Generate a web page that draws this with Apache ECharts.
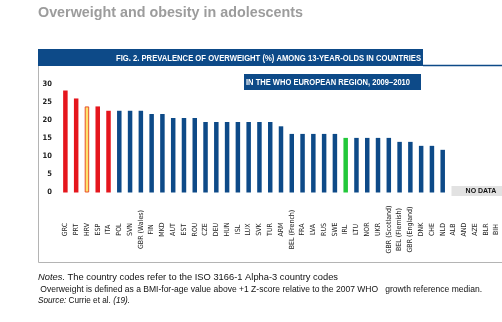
<!DOCTYPE html>
<html>
<head>
<meta charset="utf-8">
<script src="https://cdn.jsdelivr.net/npm/echarts@6/dist/echarts.min.js"></script>
<style>
  html, body { margin: 0; padding: 0; background: #ffffff; }
  #chart { width: 502px; height: 322px; }
</style>
</head>
<body>
<div id="chart"></div>
<script>
// Country codes along the x axis (HBSC 2009/2010 survey)
const countries = [
  'GRC', 'PRT', 'HRV', 'ESP', 'ITA', 'POL', 'SVN', 'GBR (Wales)', 'FIN', 'MKD',
  'AUT', 'EST', 'ROU', 'CZE', 'DEU', 'HUN', 'ISL', 'LUX', 'SVK', 'TUR',
  'ARM', 'BEL (French)', 'FRA', 'LVA', 'RUS', 'SWE', 'IRL', 'LTU', 'NOR', 'UKR',
  'GBR (Scotland)', 'BEL (Flemish)', 'GBR (England)', 'DNK', 'CHE', 'NLD',
  'ALB', 'AND', 'AZE', 'BLR', 'BIH'
];

// Prevalence of overweight (%) among 13-year-olds; null = no data
const overweight = [
  28.2, 26.0, 23.8, 23.8, 22.6, 22.6, 22.6, 22.6, 21.7, 21.7,
  20.6, 20.6, 20.6, 19.5, 19.5, 19.5, 19.5, 19.5, 19.5, 19.5,
  18.3, 16.2, 16.2, 16.2, 16.2, 16.2, 15.1, 15.1, 15.1, 15.1,
  15.1, 14.0, 14.0, 12.9, 12.9, 11.8,
  null, null, null, null, null
];

// Countries without survey data
const noDataCountries = ['ALB', 'AND', 'AZE', 'BLR', 'BIH'];

// Highlight groups
const highPrevalence = ['GRC', 'PRT', 'ESP', 'ITA'];
const hostCountry = 'HRV';
const referenceCountry = 'IRL';

const BLUE = '#0d4a88';
const SANS = '"Liberation Sans", Arial, sans-serif';
const NARROW = '"DejaVu Sans Condensed", "Liberation Sans Narrow", "Liberation Sans", sans-serif';

// Horizontal squeeze so that a string rendered in `font` spans `target` pixels
const measureCtx = document.createElement('canvas').getContext('2d');
function squeeze(text, font, target) {
  measureCtx.font = font;
  return target / measureCtx.measureText(text).width;
}

function barStyle(code) {
  if (code === hostCountry) return { color: '#fde46c', borderColor: '#e8502a', borderWidth: 1 };
  if (code === referenceCountry) return { color: '#22c83a' };
  if (highPrevalence.includes(code)) return { color: '#e5161d' };
  return { color: BLUE };
}

const seriesData = countries.map((c, i) => ({
  value: overweight[i],
  itemStyle: barStyle(c)
}));

const chart = echarts.init(document.getElementById('chart'), null, { renderer: 'canvas' });

const titleText = 'Overweight and obesity in adolescents';
const titleFont = 'bold 15px ' + SANS;
const headText = 'FIG. 2. PREVALENCE OF OVERWEIGHT (%) AMONG 13-YEAR-OLDS IN COUNTRIES';
const subText = 'IN THE WHO EUROPEAN REGION, 2009\u20132010';
const headFont = 'bold 9.5px ' + SANS;
const noteFont = '9.5px ' + SANS;
const note1 = 'Notes. The country codes refer to the ISO 3166-1 Alpha-3 country codes';
const note2 = ' Overweight is defined as a BMI-for-age value above +1 Z-score relative to the 2007 WHO   growth reference median.';
const note3 = 'Source: Currie et al. (19).';
const italicRich = { i: { fontStyle: 'italic', fontSize: 9.5, fontFamily: SANS, fill: '#111' } };

const staticGraphics = [
  // page heading
  {
    type: 'text', x: 38, y: 13, scaleX: squeeze(titleText, titleFont, 265),
    style: { text: titleText, fill: '#9c9c9c', font: titleFont, textVerticalAlign: 'middle' }
  },
  // figure frame
  {
    type: 'polyline', silent: true,
    shape: { points: [[38.5, 66], [38.5, 262.5], [502, 262.5]] },
    style: { stroke: '#b4b4b4', lineWidth: 1, fill: null }
  },
  // header band
  {
    type: 'rect', shape: { x: 38, y: 49, width: 385, height: 17 },
    style: { fill: BLUE }
  },
  {
    type: 'line', shape: { x1: 423, y1: 65.5, x2: 502, y2: 65.5 },
    style: { stroke: BLUE, lineWidth: 1.5 }
  },
  {
    type: 'text', x: 421, y: 58, scaleX: squeeze(headText, headFont, 305),
    style: { text: headText, fill: '#ffffff', font: headFont, textAlign: 'right', textVerticalAlign: 'middle' }
  },
  {
    type: 'rect', shape: { x: 244, y: 74, width: 177, height: 16 },
    style: { fill: BLUE }
  },
  {
    type: 'text', x: 246, y: 82.5, scaleX: squeeze(subText, headFont, 164),
    style: { text: subText, fill: '#ffffff', font: headFont, textAlign: 'left', textVerticalAlign: 'middle' }
  },
  // notes below the figure
  {
    type: 'text', x: 38, y: 277, scaleX: squeeze(note1, noteFont, 300),
    style: {
      text: '{i|Notes.}' + note1.slice(6),
      fill: '#111', font: noteFont, textVerticalAlign: 'middle', rich: italicRich
    }
  },
  {
    type: 'text', x: 38, y: 289, scaleX: squeeze(note2, noteFont, 444),
    style: { text: note2, fill: '#111', font: noteFont, textVerticalAlign: 'middle' }
  },
  {
    type: 'text', x: 38, y: 300.5, scaleX: squeeze(note3, noteFont, 92),
    style: {
      text: '{i|Source:} Currie et al. {i|(19).}',
      fill: '#111', font: noteFont, textVerticalAlign: 'middle', rich: italicRich
    }
  }
];

chart.setOption({
  animation: false,
  backgroundColor: '#ffffff',
  grid: { left: 60, right: 0, top: 84, bottom: 129.5, containLabel: false },
  xAxis: {
    type: 'category',
    data: countries,
    boundaryGap: true,
    axisLine: { show: false },
    axisTick: { show: false },
    axisLabel: {
      interval: 0, rotate: 90, align: 'center', verticalAlign: 'middle', margin: 37,
      fontSize: 7, fontFamily: NARROW, color: '#222'
    }
  },
  yAxis: {
    type: 'value', min: 0, max: 30, interval: 5,
    axisLine: { show: false }, axisTick: { show: false }, splitLine: { show: false },
    axisLabel: { margin: 8, fontSize: 7.5, fontWeight: 'bold', fontFamily: NARROW, color: '#222' }
  },
  series: [{
    type: 'bar',
    data: seriesData,
    barWidth: 4.5
  }],
  graphic: staticGraphics
});

// "NO DATA" band placed over the categories without values
const firstX = chart.convertToPixel({ xAxisIndex: 0 }, noDataCountries[0]);
const baseY = chart.convertToPixel({ yAxisIndex: 0 }, 0);
chart.setOption({
  graphic: staticGraphics.concat([
    {
      type: 'rect', shape: { x: firstX - 2, y: baseY - 6.5, width: 502 - firstX + 12, height: 10 },
      style: { fill: '#e2e2e2' }
    },
    {
      type: 'text', x: 481, y: baseY - 1.5,
      style: { text: 'NO DATA', fill: '#111', font: 'bold 7px ' + SANS,
        textAlign: 'center', textVerticalAlign: 'middle' }
    }
  ])
});
</script>
</body>
</html>
